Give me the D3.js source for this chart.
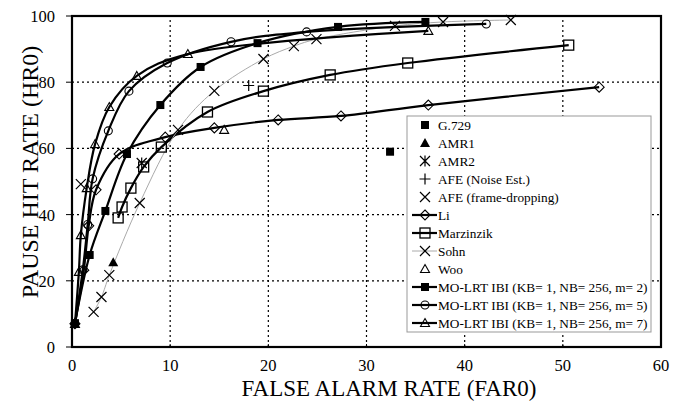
<!DOCTYPE html>
<html><head><meta charset="utf-8">
<script src="https://cdn.jsdelivr.net/npm/d3@7"></script>
</head>
<body style="margin:0"><svg id="c" width="684" height="402"></svg>
<script>
// ---- data ----
const xTicks = [0,10,20,30,40,50,60];
const yTicks = [0,20,40,60,80,100];
const g729 = [[32.4,59.0]];
const amr1 = [[4.2,25.6]];
const amr2 = [[7.1,55.6]];
const afeNoise = [[18.0,79.0]];
const afeFrame = [[0.9,49.2]];
const li = [[0.3,7],[1.2,23.2],[1.7,36.6],[2.45,47.5],[4.8,58.3],[9.5,63.4],[14.5,66.2],[21.0,68.6],[27.4,69.8],[36.3,73.1],[53.7,78.5]];
const marzinzik = [[4.7,39.0],[5.1,42.3],[6.0,48.0],[7.3,54.4],[9.1,60.4],[13.8,71.0],[19.5,77.3],[26.3,82.2],[34.2,85.8],[50.6,91.2]];
const sohn = [[2.2,10.6],[3.0,15.1],[3.8,21.7],[6.9,43.5],[10.8,65.6],[14.5,77.4],[19.5,87.0],[22.6,90.9],[24.9,93.0],[32.9,97.0],[37.8,98.2],[44.7,98.8]];
const woo = [[15.5,65.6]];
const mo2 = [[0.3,7.2],[1.8,27.8],[3.4,41.1],[5.6,58.3],[9.0,73.1],[13.1,84.6],[18.9,91.8],[27.1,96.7],[36.0,98.2]];
const mo5 = [[0.3,7],[1.1,23.3],[1.6,37],[2.1,50.8],[3.7,65.3],[5.8,77.3],[9.7,85.8],[16.2,92.2],[23.9,95.2],[42.2,97.6]];
const mo7 = [[0.3,7],[0.7,22.7],[0.9,33.8],[1.5,48],[2.35,61.3],[3.8,72.5],[6.6,81.9],[11.8,88.5],[36.3,95.5]];
const legendLabels = ["G.729","AMR1","AMR2","AFE (Noise Est.)","AFE (frame-dropping)","Li","Marzinzik","Sohn","Woo",
  "MO-LRT IBI (KB= 1, NB= 256, m= 2)","MO-LRT IBI (KB= 1, NB= 256, m= 5)","MO-LRT IBI (KB= 1, NB= 256, m= 7)"];

const series = [
  {data:g729, marker:"sqF", line:null},
  {data:amr1, marker:"triF", line:null},
  {data:amr2, marker:"ast", line:null},
  {data:afeNoise, marker:"plus", line:null},
  {data:afeFrame, marker:"x", line:null},
  {data:li, marker:"dia", line:"black"},
  {data:marzinzik, marker:"sqO", line:"black"},
  {data:sohn, marker:"x", line:"gray"},
  {data:woo, marker:"triO", line:null},
  {data:mo2, marker:"sqF", line:"black"},
  {data:mo5, marker:"cirO", line:"black"},
  {data:mo7, marker:"triO", line:"black"}
];

const FONT = "'Liberation Serif'";
const svg = d3.select("#c");
svg.append("rect").attr("width",684).attr("height",402).attr("fill","#fff");
const x = d3.scaleLinear().domain([0,60]).range([72,661]);
const y = d3.scaleLinear().domain([0,100]).range([347,16]);

// grid
const grid = svg.append("g");
xTicks.filter(t=>t>0&&t<60).forEach(t=>{
  grid.append("line").attr("x1",x(t)).attr("x2",x(t)).attr("y1",y(0)).attr("y2",y(100))
    .attr("stroke","#000").attr("stroke-width",1.2).attr("stroke-dasharray","2,3");
});
yTicks.filter(t=>t>0&&t<100).forEach(t=>{
  grid.append("line").attr("x1",x(0)).attr("x2",x(60)).attr("y1",y(t)).attr("y2",y(t))
    .attr("stroke","#000").attr("stroke-width",1.2).attr("stroke-dasharray","2,3");
});

// axis ticks and labels
yTicks.forEach(t=>{
  svg.append("line").attr("x1",x(0)-6).attr("x2",x(0)).attr("y1",y(t)).attr("y2",y(t)).attr("stroke","#000").attr("stroke-width",1);
  svg.append("text").attr("x",x(0)-17).attr("y",y(t)+6).attr("text-anchor","end")
    .attr("font-family",FONT).attr("font-size",16.5).text(t);
});
xTicks.forEach(t=>{
  svg.append("line").attr("x1",x(t)).attr("x2",x(t)).attr("y1",y(0)).attr("y2",y(0)-3).attr("stroke","#000").attr("stroke-width",1);
  svg.append("text").attr("x",x(t)).attr("y",371).attr("text-anchor","middle")
    .attr("font-family",FONT).attr("font-size",16.5).text(t);
});

// lines
const lineGen = d3.line().x(d=>x(d[0])).y(d=>y(d[1])).curve(d3.curveCatmullRom.alpha(0.5));
const plot = svg.append("g");
series.forEach(s=>{
  if(!s.line) return;
  plot.append("path").attr("d",lineGen(s.data)).attr("fill","none")
    .attr("stroke", s.line==="gray" ? "#aaa" : "#000")
    .attr("stroke-width", s.line==="gray" ? 1 : 2.2);
});

function marker(g, type, cx, cy){
  const s = 4;
  switch(type){
    case "sqF": g.append("rect").attr("x",cx-s).attr("y",cy-s).attr("width",2*s).attr("height",2*s).attr("fill","#000"); break;
    case "sqO": g.append("rect").attr("x",cx-s-1).attr("y",cy-s-1).attr("width",2*s+2).attr("height",2*s+2).attr("fill","none").attr("stroke","#000").attr("stroke-width",1.3); break;
    case "triF": g.append("path").attr("d",`M${cx},${cy-5}L${cx+5},${cy+4}L${cx-5},${cy+4}Z`).attr("fill","#000"); break;
    case "triO": g.append("path").attr("d",`M${cx},${cy-4.5}L${cx+4.5},${cy+3.5}L${cx-4.5},${cy+3.5}Z`).attr("fill","none").attr("stroke","#000").attr("stroke-width",1.1); break;
    case "cirO": g.append("circle").attr("cx",cx).attr("cy",cy).attr("r",4).attr("fill","none").attr("stroke","#000").attr("stroke-width",1.1); break;
    case "dia": g.append("path").attr("d",`M${cx},${cy-5}L${cx+5},${cy}L${cx},${cy+5}L${cx-5},${cy}Z`).attr("fill","none").attr("stroke","#000").attr("stroke-width",1.1); break;
    case "x": g.append("path").attr("d",`M${cx-5},${cy-5}L${cx+5},${cy+5}M${cx-5},${cy+5}L${cx+5},${cy-5}`).attr("stroke","#000").attr("stroke-width",1.2); break;
    case "plus": g.append("path").attr("d",`M${cx-5.5},${cy}L${cx+5.5},${cy}M${cx},${cy-5.5}L${cx},${cy+5.5}`).attr("stroke","#000").attr("stroke-width",1.2); break;
    case "ast": g.append("path").attr("d",`M${cx-5},${cy-5}L${cx+5},${cy+5}M${cx-5},${cy+5}L${cx+5},${cy-5}M${cx},${cy-5.5}L${cx},${cy+5.5}`).attr("stroke","#000").attr("stroke-width",1.2); break;
  }
}
series.forEach(s=>{
  s.data.forEach(d=>marker(plot, s.marker, x(d[0]), y(d[1])));
});

// frame
svg.append("rect").attr("x",x(0)).attr("y",y(100)).attr("width",x(60)-x(0)).attr("height",y(0)-y(100))
  .attr("fill","none").attr("stroke","#000").attr("stroke-width",2.2);

// legend
const lg = svg.append("g");
lg.append("rect").attr("x",407).attr("y",116).attr("width",244).attr("height",216)
  .attr("fill","#fff").attr("stroke","#999").attr("stroke-width",1);
series.forEach((s,i)=>{
  const cy = 125 + i*18;
  if(s.line){
    lg.append("line").attr("x1",412).attr("x2",437).attr("y1",cy).attr("y2",cy)
      .attr("stroke", s.line==="gray" ? "#aaa" : "#000").attr("stroke-width", s.line==="gray"?1:2.2);
  }
  marker(lg, s.marker, 425, cy);
  lg.append("text").attr("x",438).attr("y",cy+4.5).attr("font-family",FONT).attr("font-size",13.3).text(legendLabels[i]);
});

// titles
svg.append("text").attr("x",389).attr("y",396).attr("text-anchor","middle").attr("font-family",FONT).attr("font-size",23).text("FALSE ALARM RATE (FAR0)");
svg.append("text").attr("transform","translate(38,172) rotate(-90)").attr("text-anchor","middle").attr("font-family",FONT).attr("font-size",24).text("PAUSE HIT RATE (HR0)");
</script></body></html>
